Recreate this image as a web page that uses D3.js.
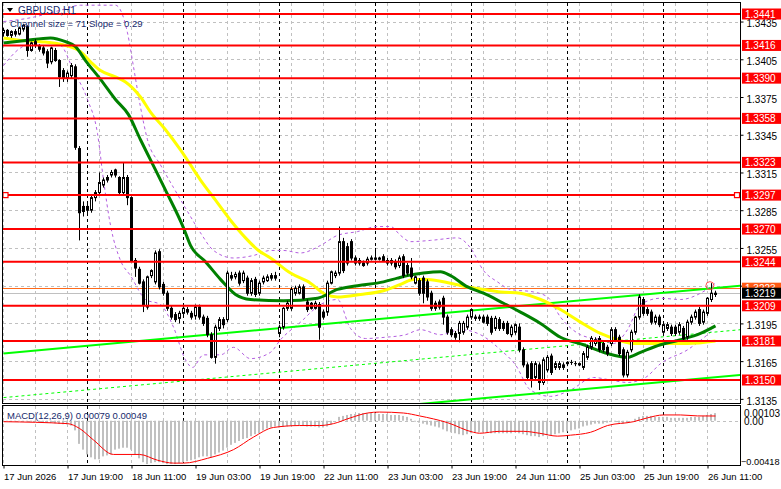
<!DOCTYPE html>
<html>
<head>
<meta charset="utf-8">
<script src="https://cdn.jsdelivr.net/npm/d3@7"></script>
<style>
  body { margin: 0; background: #fff; }
  svg { display: block; font-family: "Liberation Sans", Arial, sans-serif; }
</style>
</head>
<body>
<div id="chart"></div>
<script>
// GBPUSD H1 candles, bar 0 = 17 Jun 03:00, [open, high, low, close]
const ohlc = [
  [1.3426,1.3430,1.3423,1.3428],[1.3428,1.3429,1.3423,1.3424],[1.3424,1.3428,1.3422,1.3427],[1.3427,1.3429,1.3423,1.3425],
  [1.3425,1.3431,1.3424,1.3430],[1.3429,1.3433,1.3427,1.3432],[1.3431,1.3432,1.3407,1.3412],[1.3412,1.3419,1.3411,1.3418],
  [1.3419,1.3421,1.3414,1.3416],[1.3416,1.3417,1.3411,1.3413],[1.3414,1.3416,1.3408,1.3410],[1.3411,1.3413,1.3398,1.3402],
  [1.3403,1.3415,1.3401,1.3414],[1.3412,1.3414,1.3403,1.3404],[1.3404,1.3405,1.3383,1.3391],[1.3396,1.3398,1.3387,1.3390],
  [1.3390,1.3396,1.3387,1.3394],[1.3392,1.3402,1.3390,1.3400],[1.3399,1.3401,1.3333,1.3335],[1.3334,1.3336,1.3261,1.3283],
  [1.3288,1.3292,1.3280,1.3284],[1.3288,1.3291,1.3282,1.3285],[1.3285,1.3297,1.3283,1.3295],[1.3295,1.3301,1.3292,1.3299],
  [1.3299,1.3315,1.3297,1.3307],[1.3305,1.3311,1.3303,1.3309],[1.3309,1.3313,1.3307,1.3311],[1.3313,1.3317,1.3311,1.3315],
  [1.3317,1.3318,1.3311,1.3313],[1.3311,1.3312,1.3297,1.3299],[1.3299,1.3323,1.3297,1.3311],[1.3311,1.3313,1.3289,1.3295],
  [1.3295,1.3296,1.3244,1.3245],[1.3245,1.3247,1.3232,1.3239],[1.3238,1.3240,1.3226,1.3227],[1.3228,1.3230,1.3204,1.3210],
  [1.3208,1.3233,1.3206,1.3232],[1.3233,1.3238,1.3231,1.3237],[1.3228,1.3253,1.3226,1.3251],[1.3252,1.3254,1.3222,1.3224],
  [1.3226,1.3228,1.3217,1.3219],[1.3219,1.3221,1.3205,1.3207],[1.3207,1.3209,1.3198,1.3200],[1.3202,1.3204,1.3196,1.3198],
  [1.3199,1.3205,1.3195,1.3203],[1.3203,1.3209,1.3201,1.3207],[1.3206,1.3208,1.3202,1.3204],[1.3203,1.3205,1.3198,1.3200],
  [1.3201,1.3210,1.3198,1.3208],[1.3208,1.3210,1.3198,1.3200],[1.3200,1.3202,1.3193,1.3195],[1.3199,1.3201,1.3184,1.3186],
  [1.3186,1.3188,1.3167,1.3168],[1.3168,1.3194,1.3163,1.3192],[1.3191,1.3200,1.3189,1.3198],[1.3198,1.3200,1.3191,1.3194],
  [1.3198,1.3237,1.3196,1.3235],[1.3231,1.3236,1.3229,1.3233],[1.3232,1.3236,1.3230,1.3234],[1.3235,1.3237,1.3225,1.3227],
  [1.3229,1.3237,1.3227,1.3235],[1.3231,1.3233,1.3217,1.3219],[1.3219,1.3231,1.3217,1.3229],[1.3230,1.3232,1.3216,1.3218],
  [1.3219,1.3229,1.3217,1.3227],[1.3228,1.3233,1.3226,1.3231],[1.3229,1.3234,1.3228,1.3232],[1.3233,1.3235,1.3229,1.3231],
  [1.3231,1.3236,1.3229,1.3233],[1.3187,1.3194,1.3184,1.3192],[1.3192,1.3208,1.3190,1.3207],[1.3207,1.3213,1.3205,1.3211],
  [1.3207,1.3224,1.3205,1.3222],[1.3219,1.3225,1.3217,1.3223],[1.3219,1.3226,1.3218,1.3224],[1.3224,1.3226,1.3214,1.3215],
  [1.3212,1.3214,1.3204,1.3206],[1.3211,1.3212,1.3206,1.3207],[1.3207,1.3213,1.3206,1.3211],[1.3210,1.3212,1.3182,1.3192],
  [1.3204,1.3206,1.3198,1.3200],[1.3204,1.3229,1.3201,1.3227],[1.3227,1.3237,1.3226,1.3236],[1.3233,1.3237,1.3231,1.3235],
  [1.3235,1.3272,1.3233,1.3260],[1.3260,1.3263,1.3235,1.3237],[1.3256,1.3259,1.3241,1.3243],[1.3260,1.3262,1.3245,1.3247],
  [1.3247,1.3249,1.3241,1.3243],[1.3245,1.3247,1.3241,1.3243],[1.3243,1.3245,1.3240,1.3241],[1.3243,1.3248,1.3241,1.3246],
  [1.3246,1.3249,1.3245,1.3247],[1.3247,1.3255,1.3245,1.3246],[1.3246,1.3248,1.3245,1.3247],[1.3248,1.3250,1.3244,1.3245],
  [1.3245,1.3247,1.3241,1.3243],[1.3245,1.3247,1.3241,1.3243],[1.3244,1.3246,1.3238,1.3240],[1.3241,1.3249,1.3239,1.3247],
  [1.3248,1.3250,1.3231,1.3233],[1.3241,1.3243,1.3233,1.3235],[1.3239,1.3247,1.3230,1.3232],[1.3227,1.3233,1.3226,1.3232],
  [1.3229,1.3231,1.3217,1.3219],[1.3231,1.3233,1.3211,1.3219],[1.3228,1.3230,1.3213,1.3216],[1.3219,1.3221,1.3205,1.3207],
  [1.3211,1.3213,1.3205,1.3207],[1.3212,1.3214,1.3206,1.3208],[1.3215,1.3217,1.3194,1.3200],[1.3200,1.3202,1.3186,1.3188],
  [1.3190,1.3192,1.3184,1.3186],[1.3187,1.3189,1.3182,1.3184],[1.3187,1.3197,1.3180,1.3195],[1.3188,1.3197,1.3186,1.3195],
  [1.3192,1.3202,1.3190,1.3200],[1.3200,1.3207,1.3198,1.3206],[1.3200,1.3202,1.3197,1.3199],[1.3199,1.3202,1.3197,1.3200],
  [1.3200,1.3202,1.3195,1.3196],[1.3200,1.3202,1.3193,1.3195],[1.3199,1.3201,1.3186,1.3188],[1.3191,1.3201,1.3189,1.3199],
  [1.3198,1.3200,1.3189,1.3191],[1.3195,1.3197,1.3189,1.3191],[1.3195,1.3197,1.3186,1.3187],[1.3186,1.3194,1.3184,1.3192],
  [1.3188,1.3195,1.3186,1.3194],[1.3192,1.3195,1.3172,1.3174],[1.3174,1.3176,1.3160,1.3162],[1.3162,1.3164,1.3150,1.3152],
  [1.3163,1.3165,1.3144,1.3150],[1.3152,1.3165,1.3150,1.3163],[1.3162,1.3164,1.3142,1.3148],[1.3148,1.3168,1.3146,1.3166],
  [1.3158,1.3170,1.3156,1.3168],[1.3169,1.3171,1.3154,1.3156],[1.3160,1.3165,1.3158,1.3163],[1.3160,1.3165,1.3158,1.3163],
  [1.3160,1.3164,1.3158,1.3162],[1.3163,1.3165,1.3161,1.3164],[1.3164,1.3166,1.3162,1.3164],[1.3163,1.3165,1.3161,1.3163],
  [1.3163,1.3164,1.3161,1.3162],[1.3160,1.3173,1.3158,1.3171],[1.3168,1.3178,1.3166,1.3176],[1.3176,1.3185,1.3174,1.3183],
  [1.3179,1.3184,1.3177,1.3182],[1.3183,1.3185,1.3172,1.3174],[1.3179,1.3181,1.3172,1.3174],[1.3176,1.3178,1.3169,1.3171],
  [1.3179,1.3192,1.3177,1.3190],[1.3190,1.3192,1.3181,1.3182],[1.3184,1.3186,1.3169,1.3171],[1.3174,1.3176,1.3152,1.3154],
  [1.3154,1.3174,1.3152,1.3172],[1.3174,1.3190,1.3172,1.3188],[1.3188,1.3201,1.3186,1.3200],[1.3200,1.3218,1.3198,1.3216],
  [1.3214,1.3216,1.3201,1.3203],[1.3206,1.3208,1.3201,1.3203],[1.3204,1.3206,1.3194,1.3196],[1.3196,1.3202,1.3194,1.3200],
  [1.3200,1.3202,1.3192,1.3194],[1.3188,1.3196,1.3186,1.3194],[1.3191,1.3196,1.3189,1.3194],[1.3192,1.3194,1.3185,1.3187],
  [1.3192,1.3194,1.3185,1.3187],[1.3188,1.3196,1.3186,1.3194],[1.3191,1.3193,1.3181,1.3183],[1.3184,1.3198,1.3182,1.3196],
  [1.3196,1.3202,1.3194,1.3200],[1.3200,1.3206,1.3198,1.3204],[1.3206,1.3208,1.3193,1.3195],[1.3196,1.3206,1.3194,1.3204],
  [1.3203,1.3216,1.3201,1.3215],[1.3214,1.3227,1.3212,1.3219],[1.3218,1.3221,1.3216,1.3219]
];

// moving averages and bands as [bar, price]
const maYellow = [[0,1.3422],[4.25,1.3420],[9.25,1.3419],[15.5,1.3416],[19.25,1.3411],[21.75,1.3403],[24.25,1.3396],
  [28,1.3391],[30.5,1.3387],[34.25,1.3375],[36.75,1.3363],[40.5,1.3349],[44.25,1.3333],[49.25,1.3309],[53,1.3293],
  [56.75,1.3277],[60.5,1.3263],[63.75,1.3253],[66.75,1.3247],[71.75,1.3235],[76.75,1.3227],[80.5,1.3218],[83.5,1.3216],
  [89.25,1.3218],[95,1.3221],[99.25,1.3226],[102.5,1.3230],[106,1.3230],[111.75,1.3227],[116,1.3224],[120,1.3222],
  [124.25,1.3220],[129.25,1.3219],[134.25,1.3214],[139.25,1.3206],[144.25,1.3196],[149.25,1.3187],[153.5,1.3182],
  [157.5,1.3179],[166,1.3179],[171,1.3179],[178,1.3181]];
const maGreen = [[0,1.3418],[5.5,1.3420],[11.75,1.3422],[15.5,1.3419],[18,1.3415],[20.5,1.3404],[24.25,1.3389],
  [28,1.3373],[31.25,1.3361],[34.25,1.3341],[36.75,1.3325],[40.5,1.3301],[45,1.3271],[46.75,1.3257],[50.5,1.3244],
  [54.25,1.3230],[58,1.3218],[61.75,1.3214],[70,1.3213],[78.5,1.3215],[83.5,1.3222],[88.5,1.3225],[95,1.3228],
  [98.5,1.3231],[101,1.3233],[105,1.3235],[109.25,1.3236],[111.75,1.3233],[116,1.3224],[120,1.3219],[125,1.3211],
  [129.25,1.3204],[134.25,1.3195],[139.25,1.3184],[145,1.3178],[151,1.3171],[156,1.3168],[159.25,1.3172],
  [164.25,1.3178],[169.25,1.3182],[174.25,1.3187],[178,1.3193]];
const bandUpper = [[0,1.3435],[6.75,1.3438],[14.25,1.3444],[19.25,1.3448],[28,1.3448],[31,1.3426],[32.5,1.3399],
  [34.25,1.3367],[36,1.3341],[39.25,1.3321],[42.5,1.3303],[46,1.3284],[49.25,1.3267],[52.5,1.3253],[57.5,1.3247],
  [62.5,1.3249],[66.75,1.3253],[70,1.3253],[74.25,1.3251],[79.25,1.3257],[83.5,1.3265],[88.5,1.3268],[93.5,1.3272],
  [96.75,1.3272],[99.25,1.3265],[101.75,1.3260],[106.75,1.3261],[113.5,1.3263],[116.75,1.3255],[120,1.3237],
  [123.5,1.3228],[126.75,1.3222],[132.5,1.3220],[136,1.3216],[139.25,1.3200],[144.25,1.3186],[149.25,1.3182],
  [152.5,1.3179],[156,1.3190],[159.25,1.3210],[164.25,1.3215],[169.25,1.3214],[174.25,1.3219],[178,1.3227]];
const bandLower = [[0,1.3400],[4.25,1.3414],[9.25,1.3419],[14.25,1.3416],[17.5,1.3396],[21,1.3373],[23.5,1.3346],
  [25,1.3309],[26.75,1.3273],[29.25,1.3245],[31.75,1.3233],[35.5,1.3214],[39.25,1.3210],[42.5,1.3192],[45.5,1.3166],
  [47.25,1.3160],[50,1.3170],[54.25,1.3170],[57.5,1.3176],[61.75,1.3167],[66.75,1.3172],[69.25,1.3182],[74.25,1.3196],
  [79.25,1.3210],[83.5,1.3214],[86.75,1.3191],[90.5,1.3183],[95.5,1.3184],[100.5,1.3186],[104.25,1.3190],
  [109.25,1.3186],[114.25,1.3190],[119.25,1.3186],[124.25,1.3174],[128,1.3162],[131.75,1.3142],[136.75,1.3137],
  [141.75,1.3142],[147.5,1.3152],[151.75,1.3150],[156,1.3148],[160.5,1.3152],[164.25,1.3163],[171,1.3174],[177.5,1.3190]];

// regression channel (Channel size = 71, Slope = 0.29)
const channelBars = [0, 184.25];
const channelUpper = [1.3171, 1.3225];
const channelMid = [1.3136, 1.3190];
const channelLower = [1.3101, 1.3154];

const levels = [1.3441, 1.3416, 1.3390, 1.3358, 1.3323, 1.3297, 1.3270, 1.3244, 1.3209, 1.3181, 1.3150];
const selectedLevel = 1.3297;
const priceTicks = [1.3435, 1.3405, 1.3375, 1.3345, 1.3315, 1.3285, 1.3255, 1.3225, 1.3195, 1.3165, 1.3135];
const bid = 1.3219, ask = 1.3223;
const alertMark = [176.6, 1.3225];

const timeBars = [0, 16, 32, 48, 64, 80, 96, 112, 128, 144, 160, 176];
const timeLabels = ['17 Jun 2026', '17 Jun 19:00', '18 Jun 11:00', '19 Jun 03:00', '19 Jun 19:00', '22 Jun 11:00',
  '23 Jun 03:00', '23 Jun 19:00', '24 Jun 11:00', '25 Jun 03:00', '25 Jun 19:00', '26 Jun 11:00'];
const daySeparators = [21, 45, 69, 93, 117, 141, 165];

// MACD(12,26,9): main as histogram, signal as [bar, value]
const macdMain = [
  -0.00002,-0.00003,-0.00004,-0.00005,-0.00005,-0.00004,-0.00008,-0.00010,-0.00012,-0.00014,-0.00017,
  -0.00022,-0.00024,-0.00027,-0.00033,-0.00036,-0.00038,
  -0.00050,-0.00100,-0.00240,-0.00300,
  -0.00350,-0.00380,-0.00400,-0.00400,
  -0.00370,-0.00360,-0.00350,
  -0.00300,-0.00290,-0.00280,-0.00280,-0.00300,
  -0.00350,-0.00390,-0.00430,-0.00450,-0.00440,
  -0.00430,-0.00430,-0.00440,-0.00450,-0.00450,-0.00450,-0.00440,-0.00430,-0.00420,
  -0.00410,-0.00400,-0.00380,-0.00370,-0.00370,-0.00380,-0.00350,-0.00330,-0.00310,-0.00280,
  -0.00250,-0.00230,-0.00210,-0.00190,-0.00180,-0.00160,-0.00140,-0.00130,
  -0.00100,-0.00080,-0.00070,-0.00060,-0.00070,
  -0.00060,-0.00060,-0.00050,-0.00050,-0.00050,-0.00050,-0.00060,-0.00060,-0.00060,-0.00070,-0.00070,-0.00060,-0.00040,
  0.00000,0.00040,0.00050,0.00060,0.00070,0.00070,0.00080,0.00080,0.00080,0.00080,0.00080,0.00070,
  0.00070,0.00070,0.00060,0.00060,0.00060,0.00050,0.00040,0.00020,
  -0.00010,-0.00020,-0.00030,-0.00040,-0.00050,-0.00060,-0.00070,
  -0.00090,-0.00110,-0.00120,-0.00130,-0.00140,-0.00150,-0.00140,
  -0.00130,-0.00120,-0.00120,-0.00120,-0.00120,-0.00130,-0.00130,-0.00130,-0.00130,-0.00130,-0.00130,-0.00120,-0.00130,-0.00140,
  -0.00150,-0.00160,-0.00160,-0.00170,-0.00160,-0.00150,-0.00150,-0.00140,
  -0.00130,-0.00120,-0.00110,-0.00100,-0.00090,-0.00080,-0.00060,
  -0.00050,-0.00040,-0.00030,-0.00030,-0.00030,-0.00020,-0.00010,
  -0.00010,-0.00020,-0.00030,-0.00020,0.00000,0.00020,
  0.00040,0.00050,0.00050,0.00050,0.00040,0.00040,0.00040,0.00040,0.00030,0.00030,
  0.00030,0.00030,0.00030,0.00040,0.00040,0.00040,0.00050,0.00060,0.00070,0.00079
];
const macdSignal = [[0,-0.0001],[16,-0.0003],[19,-0.0008],[22.5,-0.0020],[27.5,-0.0035],[34,-0.0035],[38.5,-0.0041],
  [42.5,-0.0044],[45,-0.0044],[51,-0.0039],[57.5,-0.0030],[62.5,-0.0017],[67.5,-0.0007],[74,-0.0005],[79,-0.0005],
  [82.5,-0.0003],[86.75,0.0003],[91,0.0008],[94,0.0009],[100,0.0008],[104,0.0005],[111,-0.0002],[117.5,-0.0012],
  [119,-0.0013],[124,-0.0011],[130,-0.0011],[134,-0.0013],[138.5,-0.0016],[141.75,-0.0015],[146.75,-0.0012],
  [151,-0.0005],[157.5,-0.0001],[161,0.0003],[165,0.0006],[169.25,0.0006],[173.5,0.0005],[178,0.00049]];
const macdRange = [-0.00418, 0.00103];

const width = 781, height = 489;
const pane = { left: 3, right: 740, top: 3, bottom: 403 };
const sub = { top: 406, bottom: 465 };

const x = d3.scaleLinear().domain([0, 178]).range([3.5, 715.5]);
const y = d3.scaleLinear().domain([1.3150, 1.3441]).range([380, 14]);
const ym = d3.scaleLinear().domain(macdRange).range([461, 410.8]);
const crisp = v => Math.round(v) + 0.5;

const svg = d3.select('#chart').append('svg')
  .attr('width', width)
  .attr('height', height);
svg.append('rect').attr('width', width).attr('height', height).attr('fill', '#fff');

const defs = svg.append('defs');
defs.append('clipPath').attr('id', 'clipPrice').append('rect')
  .attr('x', pane.left).attr('y', pane.top).attr('width', pane.right - pane.left).attr('height', pane.bottom - pane.top);
defs.append('clipPath').attr('id', 'clipMacd').append('rect')
  .attr('x', pane.left).attr('y', sub.top).attr('width', pane.right - pane.left).attr('height', sub.bottom - sub.top);

// grid
const grid = svg.append('g');
grid.selectAll('line.hgrid').data(priceTicks).enter().append('line')
  .attr('x1', pane.left).attr('x2', pane.right)
  .attr('y1', d => crisp(y(d))).attr('y2', d => crisp(y(d)))
  .attr('stroke', '#c0c0c0').attr('stroke-dasharray', '3,3');
grid.append('line')
  .attr('x1', pane.left).attr('x2', pane.right)
  .attr('y1', crisp(ym(0))).attr('y2', crisp(ym(0)))
  .attr('stroke', '#c0c0c0').attr('stroke-dasharray', '3,3');
const gridBars = d3.range(0, 179, 8);
[[pane.top, pane.bottom], [sub.top, sub.bottom]].forEach(([t, b]) => {
  grid.selectAll(null).data(gridBars).enter().append('line')
    .attr('x1', d => x(d)).attr('x2', d => x(d)).attr('y1', t).attr('y2', b)
    .attr('stroke', '#c0c0c0').attr('stroke-dasharray', '3,3');
  grid.selectAll(null).data(daySeparators).enter().append('line')
    .attr('x1', d => x(d)).attr('x2', d => x(d)).attr('y1', t).attr('y2', b)
    .attr('stroke', '#000').attr('stroke-dasharray', '3,3');
});

const price = svg.append('g').attr('clip-path', 'url(#clipPrice)');

// bid / ask lines
price.append('line').attr('x1', pane.left).attr('x2', pane.right)
  .attr('y1', crisp(y(bid))).attr('y2', crisp(y(bid))).attr('stroke', '#c0c0c0');
price.append('line').attr('x1', pane.left).attr('x2', pane.right)
  .attr('y1', crisp(y(ask))).attr('y2', crisp(y(ask))).attr('stroke', '#ff6a1a');

const line = d3.line().x(d => x(d[0])).y(d => y(d[1])).curve(d3.curveMonotoneX);

// bands
[bandUpper, bandLower].forEach(b => {
  price.append('path').attr('d', line(b)).attr('fill', 'none')
    .attr('stroke', '#b35ee0').attr('stroke-width', 1).attr('stroke-dasharray', '3,3');
});

// regression channel
const chan = (vals, w, dash) => price.append('line')
  .attr('x1', x(channelBars[0])).attr('x2', x(channelBars[1]))
  .attr('y1', y(vals[0])).attr('y2', y(vals[1]))
  .attr('stroke', '#00ff00').attr('stroke-width', w).attr('stroke-dasharray', dash);
chan(channelUpper, 2, null);
chan(channelMid, 1, '3,3');
chan(channelLower, 2, null);

// moving averages
price.append('path').attr('d', line(maYellow)).attr('fill', 'none')
  .attr('stroke', '#ffff00').attr('stroke-width', 3);
price.append('path').attr('d', line(maGreen)).attr('fill', 'none')
  .attr('stroke', '#008000').attr('stroke-width', 3);

// candles
const candle = price.selectAll('g.candle').data(ohlc).enter().append('g').attr('class', 'candle');
candle.append('line')
  .attr('x1', (d, i) => x(i)).attr('x2', (d, i) => x(i))
  .attr('y1', d => y(d[1])).attr('y2', d => y(d[2]))
  .attr('stroke', '#000');
candle.append('rect')
  .attr('x', (d, i) => x(i) - 1)
  .attr('width', 2)
  .attr('y', d => y(Math.max(d[0], d[3])))
  .attr('height', d => Math.max(0.01, Math.abs(y(d[0]) - y(d[3]))))
  .attr('fill', d => d[3] >= d[0] ? '#fff' : '#000')
  .attr('stroke', '#000');

// horizontal levels
price.selectAll('line.level').data(levels).enter().append('line')
  .attr('x1', pane.left).attr('x2', pane.right)
  .attr('y1', d => y(d)).attr('y2', d => y(d))
  .attr('stroke', '#ff0000').attr('stroke-width', 2);
[pane.left + 2.5, pane.right - 3].forEach(cx => {
  price.append('rect').attr('x', cx - 2.5).attr('y', y(selectedLevel) - 2.5)
    .attr('width', 5).attr('height', 5)
    .attr('fill', '#fff').attr('stroke', '#ff0000').attr('stroke-width', 1.2);
});
price.append('circle')
  .attr('cx', x(alertMark[0])).attr('cy', y(alertMark[1])).attr('r', 4)
  .attr('fill', 'none').attr('stroke', '#ff5050');

// MACD
const macd = svg.append('g').attr('clip-path', 'url(#clipMacd)');
macd.selectAll('rect').data(macdMain).enter().append('rect')
  .attr('x', (d, i) => x(i) - 1.5)
  .attr('width', 2)
  .attr('y', d => Math.min(ym(0), ym(d)))
  .attr('height', d => Math.abs(ym(d) - ym(0)))
  .attr('fill', '#c0c0c0');
macd.append('path')
  .attr('d', d3.line().x(d => x(d[0])).y(d => ym(d[1])).curve(d3.curveMonotoneX)(macdSignal))
  .attr('fill', 'none').attr('stroke', '#ff0000').attr('stroke-width', 1);

// frames
svg.append('rect').attr('x', 2.5).attr('y', 2.5).attr('width', pane.right - 2).attr('height', pane.bottom - 2)
  .attr('fill', 'none').attr('stroke', '#000');
svg.append('rect').attr('x', 2.5).attr('y', sub.top - 0.5).attr('width', pane.right - 2).attr('height', sub.bottom - sub.top + 1)
  .attr('fill', 'none').attr('stroke', '#000');

// right price axis
const yAxis = svg.append('g')
  .attr('transform', `translate(${pane.right + 0.5},0)`)
  .call(d3.axisRight(y).tickValues(priceTicks).tickFormat(d3.format('.4f')).tickSize(3).tickPadding(3));
yAxis.select('.domain').remove();
yAxis.selectAll('text').attr('font-size', 10).attr('fill', '#000').attr('dy', '0.52em')
  .attr('font-family', '"Liberation Sans", Arial, sans-serif');
yAxis.selectAll('line').attr('stroke', '#000');

// level tags
const tags = svg.append('g');
const tag = (p, fill, txt) => {
  tags.append('rect').attr('x', 742).attr('y', y(p) - 5.5).attr('width', 39).attr('height', 11).attr('fill', fill);
  tags.append('text').attr('x', 745).attr('y', y(p) + 4).attr('font-size', 10).attr('fill', '#fff').text(txt);
};
levels.forEach(l => tag(l, '#ff0000', d3.format('.4f')(l)));
tag(ask, '#ff5a14', d3.format('.4f')(ask));
tag(bid, '#000', d3.format('.4f')(bid));

// MACD scale labels
const mlab = svg.append('g').attr('fill', '#000');
mlab.append('text').attr('x', 744).attr('y', ym(macdRange[1]) + 6).attr('font-size', 10).text(d3.format('.5f')(macdRange[1]));
mlab.append('text').attr('x', 744).attr('y', ym(0) + 4).attr('font-size', 10).text(d3.format('.2f')(0));
mlab.append('text').attr('x', 741).attr('y', ym(macdRange[0]) + 3.5).attr('font-size', 9.2).text(d3.format('.5f')(macdRange[0]));

// time axis
const xAxis = svg.append('g')
  .attr('transform', `translate(0,${sub.bottom + 0.5})`)
  .call(d3.axisBottom(x).tickValues(timeBars).tickFormat((d, i) => timeLabels[i]).tickSize(3).tickPadding(5));
xAxis.select('.domain').remove();
xAxis.selectAll('text').attr('text-anchor', 'start').attr('font-size', 9.5).attr('fill', '#000')
  .attr('font-family', '"Liberation Sans", Arial, sans-serif');
xAxis.selectAll('line').attr('stroke', '#000');

// captions
svg.append('path').attr('d', 'M7,8 L13,8 L10,12 Z').attr('fill', '#000');
svg.append('text').attr('x', 18).attr('y', 14).attr('font-size', 10).attr('fill', '#16296b').text('GBPUSD,H1');
svg.append('text').attr('x', 10).attr('y', 27).attr('font-size', 9.5).attr('fill', '#16296b')
  .text('Channel size = 71 Slope = 0.29');
svg.append('text').attr('x', 7).attr('y', 419).attr('font-size', 9.5).attr('fill', '#16296b')
  .text('MACD(12,26,9) 0.00079 0.00049');
</script>
</body>
</html>
